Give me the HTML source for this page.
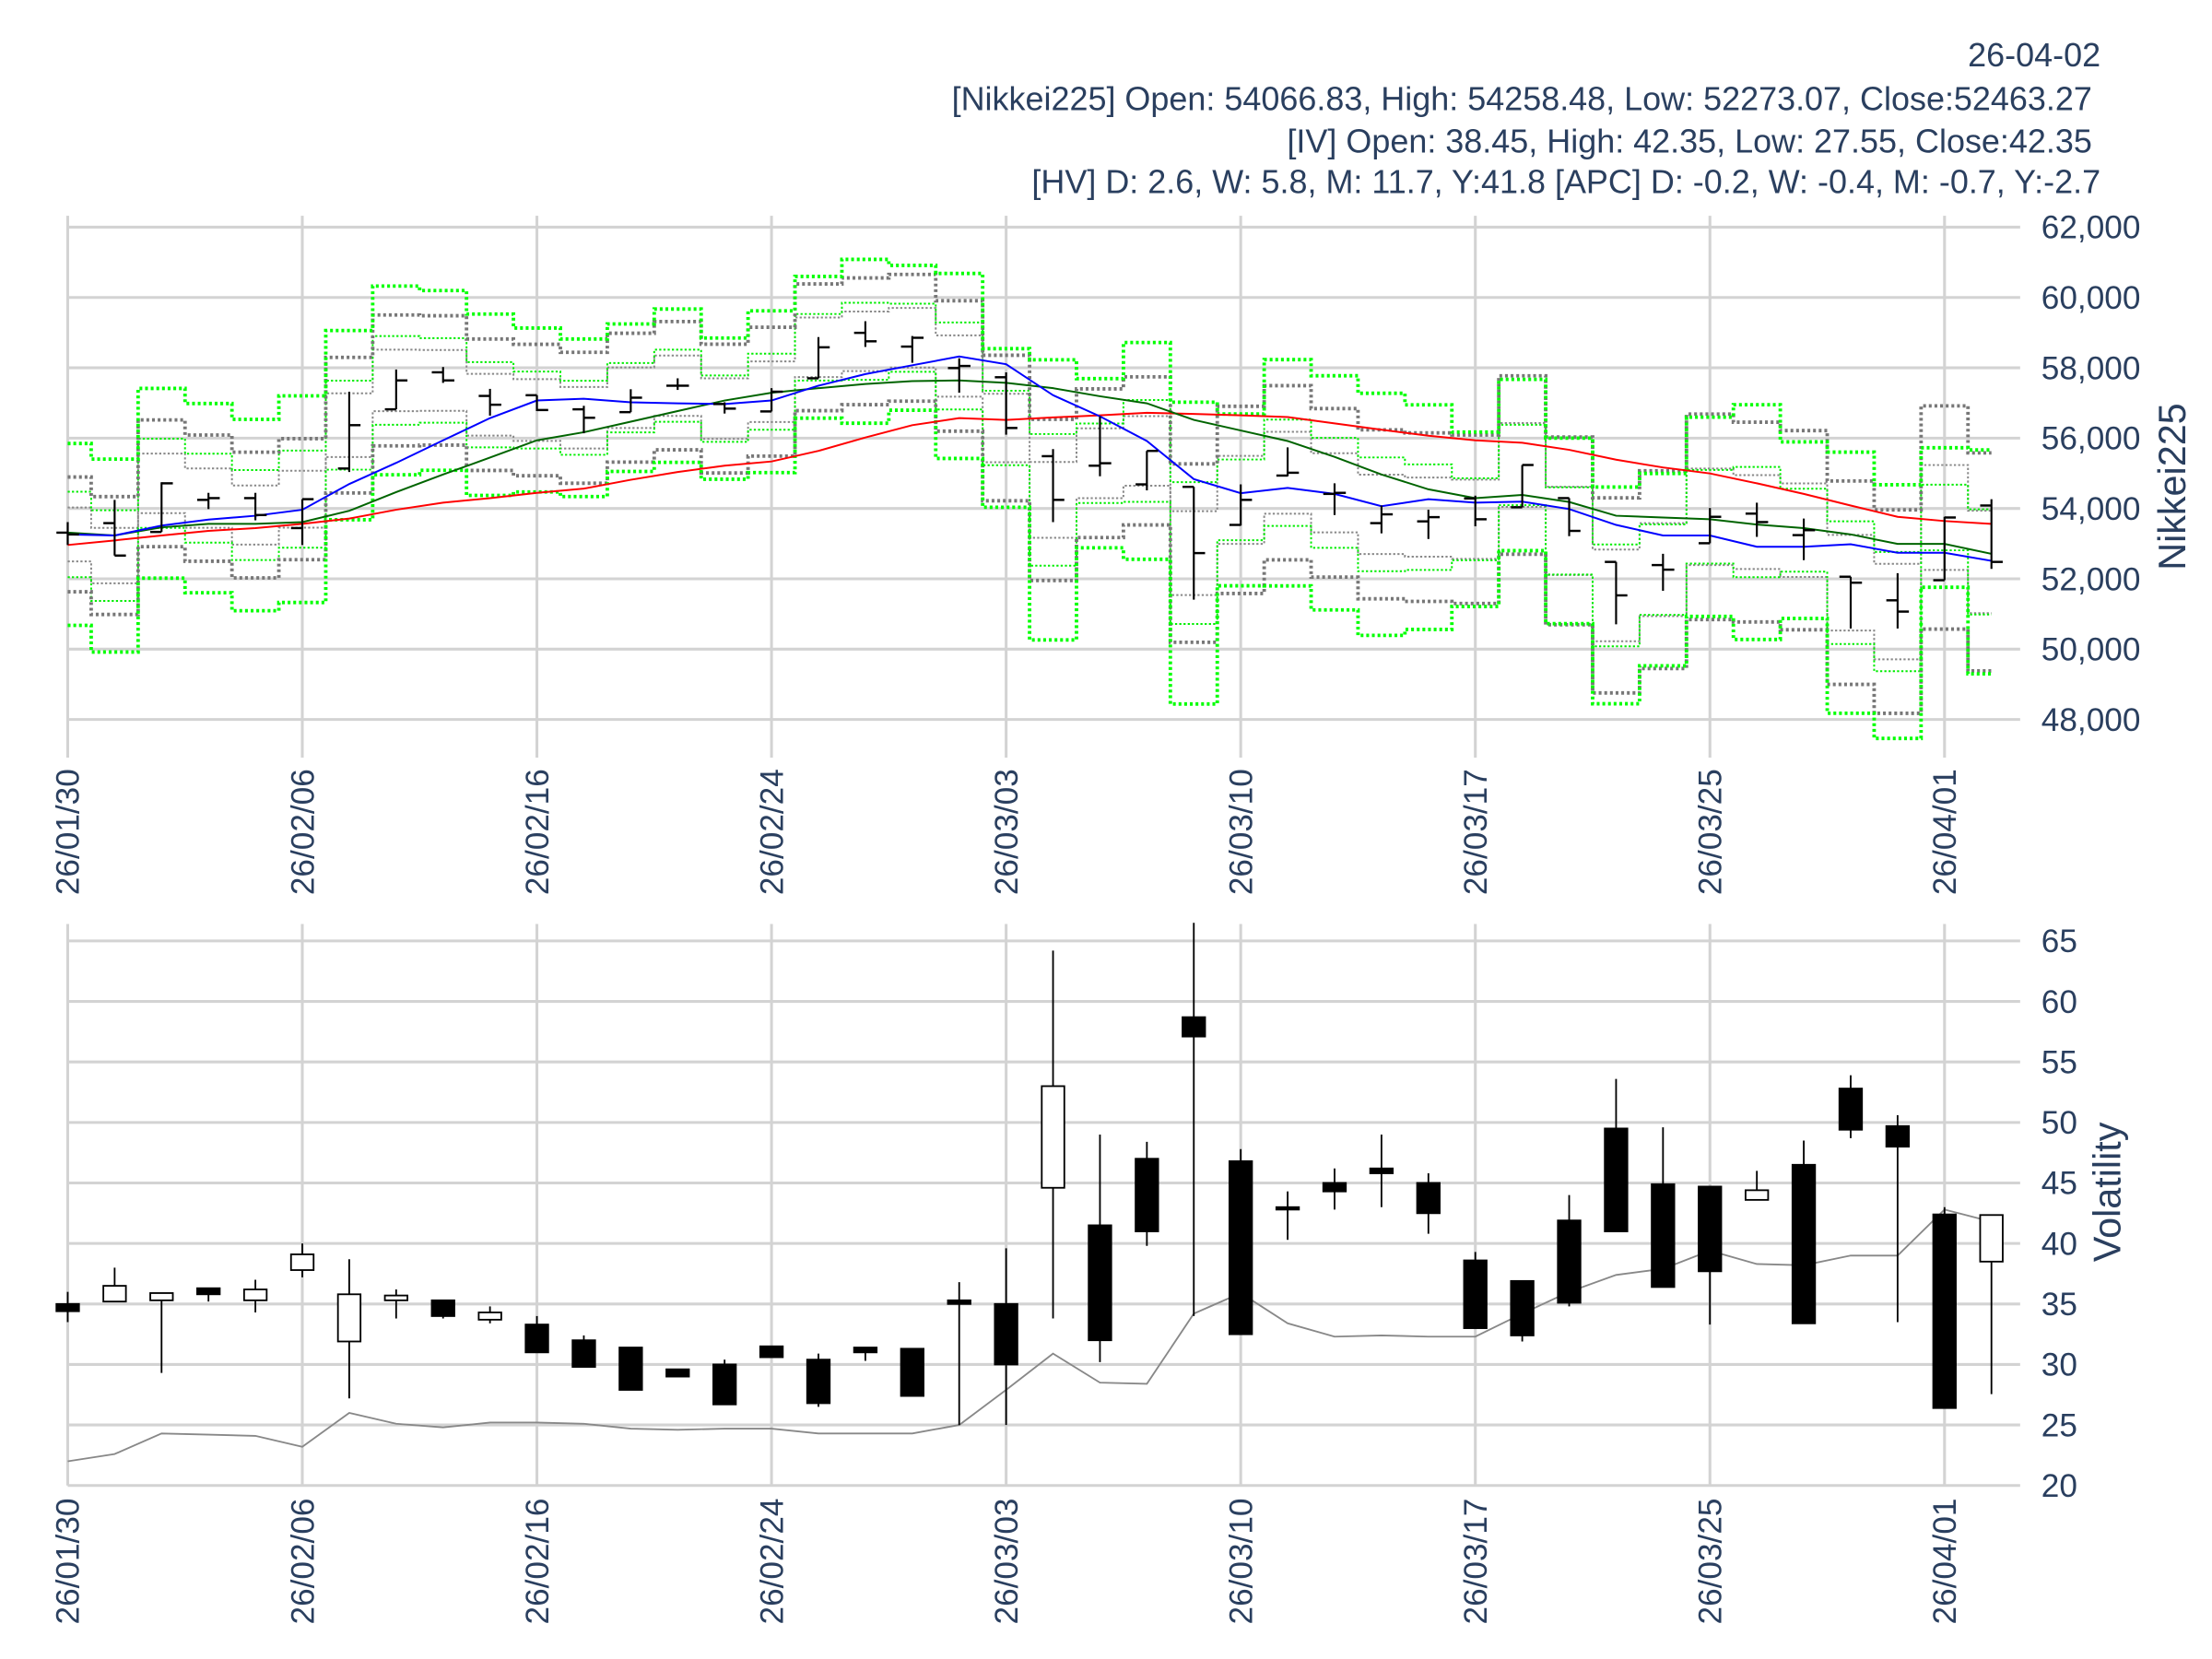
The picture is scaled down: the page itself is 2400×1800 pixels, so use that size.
<!DOCTYPE html>
<html><head><meta charset="utf-8"><style>
html,body{margin:0;padding:0;background:#fff;}
svg{display:block;}
text{font-family:"Liberation Sans",Arial,sans-serif;fill:#2a3f5f;}
</style></head><body>
<svg id="s" width="2400" height="1800" viewBox="0 0 1568 1176" xmlns="http://www.w3.org/2000/svg">
<rect width="1568" height="1176" fill="#fff"/>
<g id="grid"></g>
<g id="bands"></g>
<g id="lines"></g>
<g id="bars"></g>
<g font-size="23.5" text-anchor="end">
<text x="1489" y="47">26-04-02</text>
<text x="1483" y="78">[Nikkei225] Open: 54066.83, High: 54258.48, Low: 52273.07, Close:52463.27</text>
<text x="1483" y="108">[IV] Open: 38.45, High: 42.35, Low: 27.55, Close:42.35</text>
<text x="1489" y="137">[HV] D: 2.6, W: 5.8, M: 11.7, Y:41.8 [APC] D: -0.2, W: -0.4, M: -0.7, Y:-2.7</text>
</g>
<g id="labels" font-size="23"></g>
<text x="0" y="0" font-size="27" text-anchor="middle" transform="translate(1549,345) rotate(-90)">Nikkei225</text>
<text x="0" y="0" font-size="27" text-anchor="middle" transform="translate(1503,845) rotate(-90)">Volatility</text>
</svg>
<script>
const NS="http://www.w3.org/2000/svg";
function el(p,t,a,txt){const e=document.createElementNS(NS,t);for(const k in a)e.setAttribute(k,a[k]);if(txt!==undefined)e.textContent=txt;document.getElementById(p).appendChild(e);return e;}
const X=i=>48+33.26*i;
const Y=zy=>161+(zy-43)*0.2498;
const V=v=>1053-(v-20)*8.578;
const dates=["26/01/30","26/02/06","26/02/16","26/02/24","26/03/03","26/03/10","26/03/17","26/03/25","26/04/01"];
for(let k=0;k<9;k++){const x=X(k*5);
 el("grid","line",{x1:x,x2:x,y1:153,y2:537,stroke:"#d3d3d3","stroke-width":2});
 el("grid","line",{x1:x,x2:x,y1:655,y2:1053,stroke:"#d3d3d3","stroke-width":2});
 el("labels","text",{x:0,y:0,"text-anchor":"end",transform:`translate(${x+8},545) rotate(-90)`},dates[k]);
 el("labels","text",{x:0,y:0,"text-anchor":"end",transform:`translate(${x+8},1062) rotate(-90)`},dates[k]);
}
const pl=["62,000","60,000","58,000","56,000","54,000","52,000","50,000","48,000"];
for(let k=0;k<8;k++){const y=161+k*49.86;
 el("grid","line",{x1:48,x2:1432,y1:y,y2:y,stroke:"#d3d3d3","stroke-width":2});
 el("labels","text",{x:1447,y:y+8},pl[k]);}
for(let v=20;v<=65;v+=5){const y=V(v);
 el("grid","line",{x1:48,x2:1432,y1:y,y2:y,stroke:"#d3d3d3","stroke-width":2});
 el("labels","text",{x:1447,y:y+8},String(v));}
const H=[880,817,767,797,797,815,510,447,440,502,520,550,503,472,540,500,355,310,352,415,455,673,580,678,780,773,668,770,833,845,805,718,812,993,970,840,825,870,1035,1025,865,815];
const L=[945,975,908,843,875,945,738,560,485,578,565,628,568,505,572,566,472,383,428,513,632,880,750,790,1100,890,750,860,912,928,892,838,920,1170,1075,940,922,988,1182,1182,1045,1013];
const O=[910,883,908,817,812,897,728,560,455,522,520,560,568,493,545,566,472,343,382,443,469,693,720,773,780,888,748,800,883,878,813,838,812,993,1002,940,856,917,1035,1102,1045,833];
const C=[915,975,770,812,860,815,605,478,478,547,562,584,527,493,558,510,384,367,357,437,613,817,713,678,968,817,740,797,858,866,872,718,905,1088,1015,865,880,903,1052,1134,867,993];
const IVc=[34.4,36.5,35.9,35.8,36.2,39.1,35.8,35.7,34,34.3,31,29.8,27.9,29,26.7,30.6,26.8,31,27.4,35,30,53,32,41,57.1,32.5,42.8,44.3,45.8,42.5,33,32.4,35.1,41,36.4,37.7,44.4,33.4,49.4,48,26.4,42.35];
const HV=[22,22.6,24.3,24.2,24.1,23.2,26,25.1,24.8,25.2,25.2,25.1,24.7,24.6,24.7,24.7,24.3,24.3,24.3,25,27.9,30.9,28.5,28.4,34.2,35.9,33.4,32.3,32.4,32.3,32.3,34.2,36,37.4,37.9,39.4,38.3,38.2,39,39,42.8,41.8];
const N=42;
function step(arr){let d=`M${X(0)},${Y(arr[0])}`;for(let i=0;i<N-1;i++){d+=`H${X(i)+16.63}V${Y(arr[i+1])}`;}d+=`H${X(N-1)}`;return d;}
function band(w,sign,f){return C.map((c,i)=>c+sign*w[i]*f);}
const gw=IVc.map(v=>v*7.5), hw=HV.map(v=>v*7.4);
const specs=[[hw,0.47,"#888","1.3","1.5,1.5"],[gw,0.47,"#00ee00","1.3","1.5,1.5"],[hw,1,"#777","2.5","2,2"],[gw,1,"#00ff00","2.5","2,2"]];
for(const [w,f,col,sw,da] of specs){for(const s of [-1,1]){
 el("bands","path",{d:step(band(w,s,f)),fill:"none",stroke:col,"stroke-width":sw,"stroke-dasharray":da});}}
const blue=[915,918,890,873,862,845,772,712,648,585,535,530,540,543,545,535,493,460,435,410,432,520,580,650,758,798,783,800,835,815,825,822,843,888,918,918,950,950,943,967,967,990];
const green=[910,918,895,885,885,880,848,795,745,697,648,625,595,565,535,513,500,488,480,478,485,500,523,543,590,620,650,695,745,787,812,803,823,862,867,872,887,897,915,942,942,970];
const red=[945,932,918,905,897,885,870,845,825,812,797,785,760,738,720,708,678,640,605,585,590,583,577,570,573,577,582,600,618,635,648,655,675,703,725,742,770,800,833,865,877,885];
for(const [a,c] of [[red,"#ff0000"],[green,"#006400"],[blue,"#0000ff"]]){
 el("lines","polyline",{points:a.map((v,i)=>`${X(i)},${Y(v)}`).join(" "),fill:"none",stroke:c,"stroke-width":1.3});}
for(let i=0;i<N;i++){const x=X(i);
 el("bars","line",{x1:x,x2:x,y1:Y(H[i]),y2:Y(L[i]),stroke:"#000","stroke-width":1.4});
 el("bars","line",{x1:x-8,x2:x,y1:Y(O[i]),y2:Y(O[i]),stroke:"#000","stroke-width":1.6});
 el("bars","line",{x1:x,x2:x+8,y1:Y(C[i]),y2:Y(C[i]),stroke:"#000","stroke-width":1.6});}
el("lines","polyline",{points:HV.map((v,i)=>`${X(i)},${V(v)}`).join(" "),fill:"none",stroke:"#888","stroke-width":1.2});
const cd=[[33.5,36,34.4,35,1],[35.2,38,35.2,36.5,0],[29.3,35.9,35.3,35.9,0],[35.2,36.3,35.8,36.3,1],[34.3,37,35.3,36.2,0],[37.2,40,37.8,39.1,0],[27.2,38.7,31.9,35.8,0],[33.8,36.2,35.3,35.7,0],[33.8,35.3,34,35.3,1],[33.4,34.8,33.7,34.3,0],[31,34,31,33.3,1],[29.8,32.4,29.8,32,1],[27.9,31.4,27.9,31.4,1],[29,29.6,29,29.6,1],[26.7,30.4,26.7,30,1],[30.6,31.5,30.6,31.5,1],[26.5,30.9,26.8,30.4,1],[30.3,31.4,31,31.4,1],[27.4,31.3,27.4,31.3,1],[25,36.8,35,35.3,1],[25,39.6,30,35,1],[33.8,64.2,44.6,53,0],[30.2,49,32,41.5,1],[39.8,48.4,41,47,1],[34,66.5,57.1,58.7,1],[32.5,47.8,32.5,46.8,1],[40.3,44.3,42.8,43,1],[42.8,46.2,44.3,45,1],[43,49,45.8,46.2,1],[40.8,45.8,42.5,45,1],[33,39.3,33,38.6,1],[31.9,36.9,32.4,36.9,1],[34.8,44,35.1,41.9,1],[41,53.6,41,49.5,1],[36.4,49.6,36.4,44.9,1],[33.3,44.7,37.7,44.7,1],[43.6,46,43.6,44.4,0],[33.4,48.5,33.4,46.5,1],[48.7,53.9,49.4,52.8,1],[33.5,50.6,48,49.7,1],[26.4,43,26.4,42.4,1],[27.55,42.35,38.5,42.35,0]];
cd.forEach((c,i)=>{const x=X(i);
 el("bars","line",{x1:x,x2:x,y1:V(c[1]),y2:V(c[0]),stroke:"#000","stroke-width":1.2});
 const yt=V(c[3]),yb=V(c[2]);
 el("bars","rect",{x:x-8,y:yt,width:16,height:Math.max(yb-yt,1.5),fill:c[4]?"#000":"#fff",stroke:"#000","stroke-width":1.2});});
</script>
</body></html>
